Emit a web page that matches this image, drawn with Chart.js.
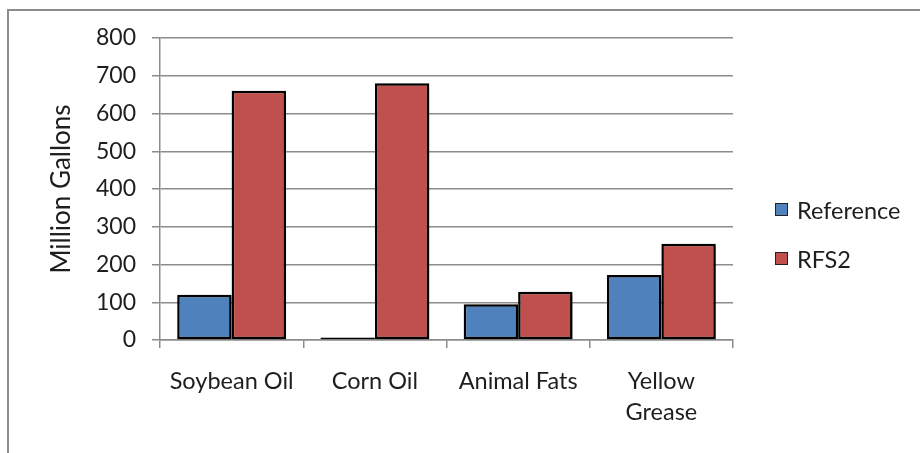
<!DOCTYPE html>
<html>
<head>
<meta charset="utf-8">
<script src="https://cdn.jsdelivr.net/npm/chart.js@4.4.0/dist/chart.umd.min.js"></script>
<style>
    body { margin: 0; background: #fff; overflow: hidden; }
    #wrap { position: relative; width: 920px; height: 453px; }
    #frame {
        position: absolute; left: 7px; top: 9px; width: 1000px; height: 1000px;
        border-left: 2px solid #8c8c8c; border-top: 2px solid #8c8c8c;
    }
    canvas { position: absolute; left: 0; top: 0; }
</style>
</head>
<body>
<div id="wrap">
    <div id="frame"></div>
    <canvas id="feedstock-chart" width="920" height="453"></canvas>
</div>
<script>
const categories = ["Soybean Oil", "Corn Oil", "Animal Fats", ["Yellow", "Grease"]]
const referenceValues = [120, 0, 95, 172]
const rfs2Values = [660, 680, 128, 255]
const yTicks = [0, 100, 200, 300, 400, 500, 600, 700, 800]

const fontFamily = "Lato, 'Open Sans', sans-serif"
const textColor = "#1e1e1e"
const gridColor = "#8c8c8c"

// soft drop shadow behind the bars
const barShadow = {
    id: 'barShadow',
    beforeDatasetsDraw(chart) {
        const ctx = chart.ctx
        ctx.save()
        ctx.shadowColor = 'rgba(0, 0, 0, 0.35)'
        ctx.shadowBlur = 4
        ctx.shadowOffsetX = 3
        ctx.shadowOffsetY = 2
    },
    afterDatasetsDraw(chart) {
        chart.ctx.restore()
    }
}

// legend on the right, square swatches with a dark outline
const sideLegend = {
    id: 'sideLegend',
    afterDraw(chart) {
        const ctx = chart.ctx
        const rows = [210, 259]
        ctx.save()
        ctx.font = "23.5px " + fontFamily
        ctx.textBaseline = 'middle'
        chart.data.datasets.forEach((ds, i) => {
            const y = rows[i]
            ctx.fillStyle = ds.backgroundColor
            ctx.fillRect(775, y - 7, 13, 13)
            ctx.strokeStyle = '#222'
            ctx.lineWidth = 1
            ctx.strokeRect(775.5, y - 6.5, 12, 12)
            ctx.fillStyle = textColor
            ctx.fillText(ds.label, 797, y + 1)
        })
        ctx.restore()
    }
}

const feedstockChart = new Chart(document.getElementById('feedstock-chart'), {
    type: 'bar',
    data: {
        labels: categories,
        datasets: [
            {
                label: 'Reference',
                data: referenceValues,
                backgroundColor: '#4f81bd',
                borderColor: '#000',
                borderWidth: 2.5,
                borderSkipped: false,
                minBarLength: 2.5
            },
            {
                label: 'RFS2',
                data: rfs2Values,
                backgroundColor: '#c0504d',
                borderColor: '#000',
                borderWidth: 2.5,
                borderSkipped: false
            }
        ]
    },
    options: {
        responsive: false,
        animation: false,
        categoryPercentage: 0.76,
        barPercentage: 1,
        layout: {
            padding: { left: 38, right: 187, top: 38, bottom: 0 }
        },
        scales: {
            x: {
                grid: {
                    offset: true,
                    drawOnChartArea: false,
                    tickLength: 8,
                    color: gridColor,
                    lineWidth: 1.5
                },
                border: { color: gridColor, width: 1.5 },
                ticks: {
                    color: textColor,
                    padding: 18,
                    font: { family: fontFamily, size: 23.5, lineHeight: 1.33 }
                },
                afterFit(scale) { scale.height = 113 }
            },
            y: {
                min: 0,
                max: 800,
                afterBuildTicks(scale) {
                    scale.ticks = yTicks.map(v => ({ value: v }))
                },
                grid: {
                    tickLength: 8,
                    color: gridColor,
                    lineWidth: 1.5
                },
                border: { color: gridColor, width: 1.5 },
                ticks: {
                    color: textColor,
                    padding: 16,
                    font: { family: fontFamily, size: 23 }
                },
                title: {
                    display: true,
                    text: 'Million Gallons',
                    color: textColor,
                    padding: { top: 8 },
                    font: { family: fontFamily, size: 26 }
                },
                afterFit(scale) { scale.width = 122 }
            }
        },
        plugins: {
            legend: { display: false },
            tooltip: { enabled: false }
        }
    },
    plugins: [barShadow, sideLegend]
})
</script>
</body>
</html>
